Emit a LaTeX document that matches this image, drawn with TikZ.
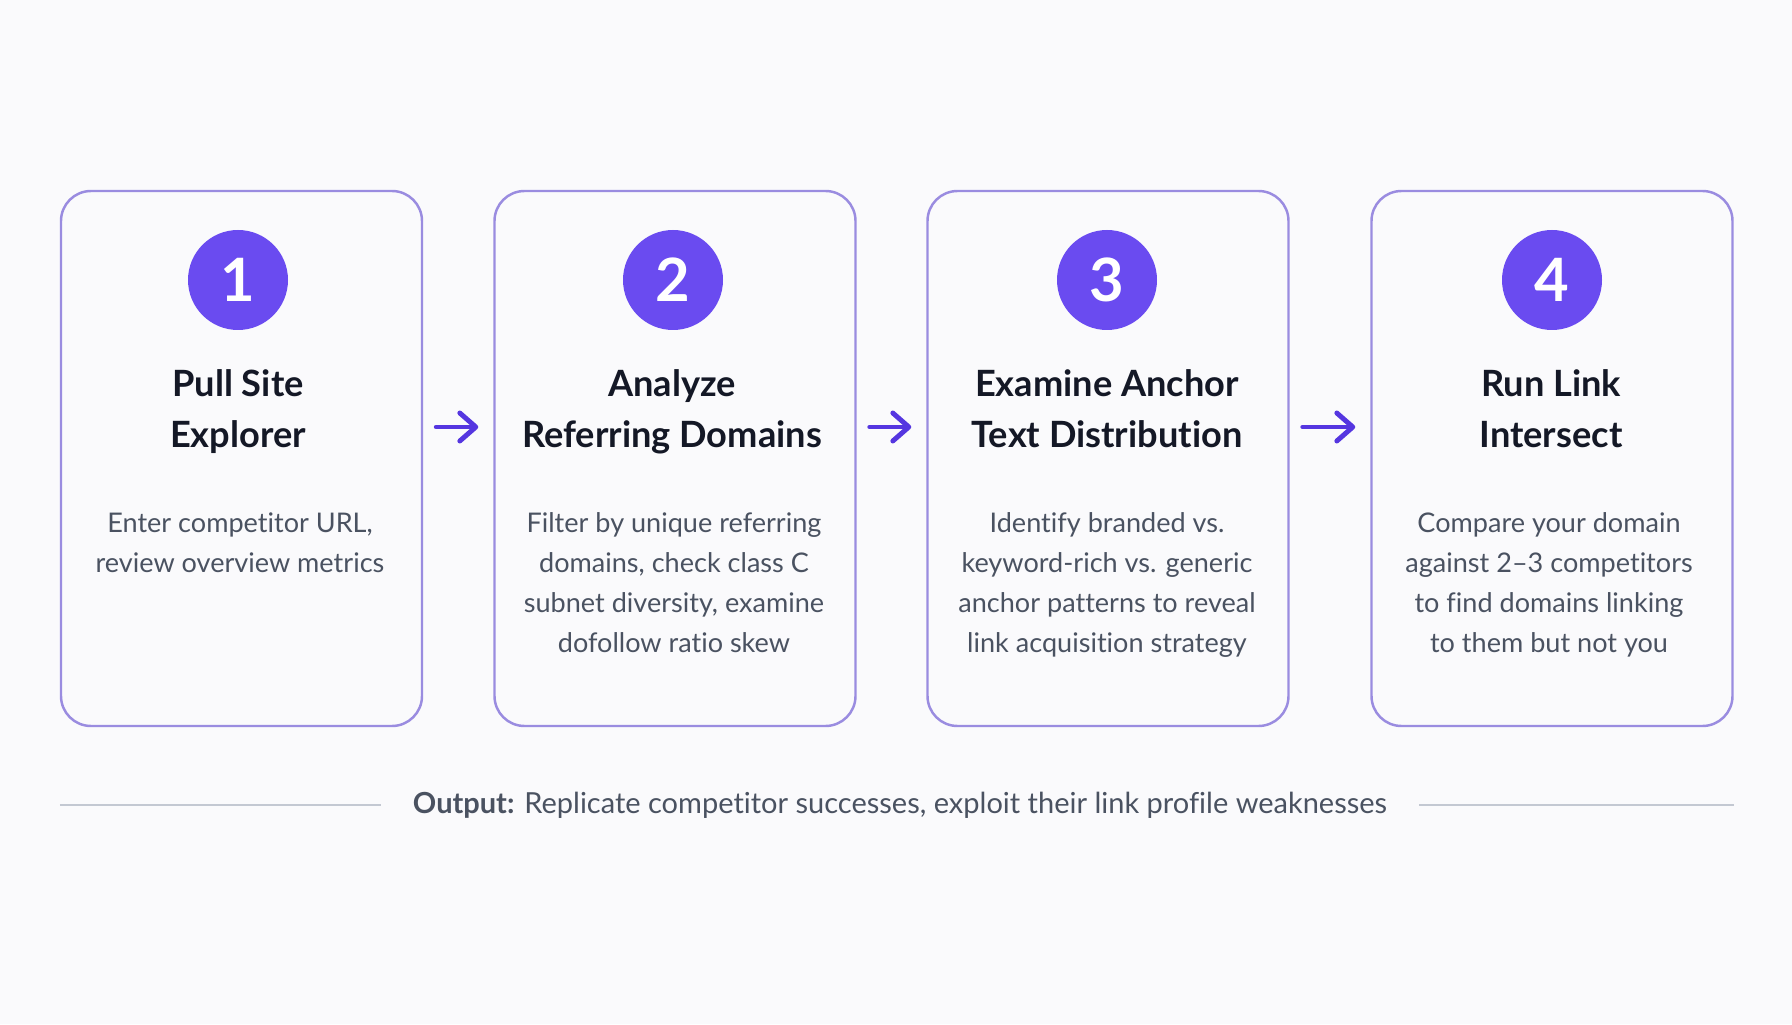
\documentclass[tikz,border=0pt]{standalone}
\usepackage{fontspec}
\setmainfont[Ligatures=NoCommon]{Lato}
\usetikzlibrary{arrows.meta}
\definecolor{stepviolet}{HTML}{6A4BF0}
\definecolor{boxedge}{HTML}{9A8CE0}
\definecolor{arrowviolet}{HTML}{5536E0}
\definecolor{titleink}{HTML}{141826}
\definecolor{bodyink}{HTML}{4A5261}
\definecolor{ruleink}{HTML}{C3C8D2}
\definecolor{pagebg}{HTML}{FAFAFC}

\begin{document}
\begin{tikzpicture}[x=1cm,y=1cm,
    stepbox/.style={draw=boxedge,line width=0.7pt,rounded corners=0.3cm,
        minimum width=3.61cm,minimum height=5.35cm,inner sep=0pt},
    stepnum/.style={circle,fill=stepviolet,text=white,minimum size=1.0cm,
        inner sep=0pt,font=\fontsize{17}{17}\selectfont\bfseries},
    steptitle/.style={anchor=north,align=center,text=titleink,
        font=\fontsize{10.3}{14.5}\selectfont\bfseries},
    stepbody/.style={anchor=north,align=center,text=bodyink,
        font=\fontsize{7.7}{11.4}\selectfont},
    flow/.style={-{Straight Barb[length=1.6mm,width=2.8mm,round]},
        line width=1.4pt,line cap=round,arrowviolet,
        shorten <=0.13cm,shorten >=0.15cm}]
    \useasboundingbox[fill=pagebg] (0,0) rectangle (17.92,10.24);

    \node[stepbox] (box1) at (2.415,5.655) {};
    \node[stepbox] (box2) at (6.75,5.655) {};
    \node[stepbox] (box3) at (11.08,5.655) {};
    \node[stepbox] (box4) at (15.52,5.655) {};

    \node[stepnum] (num1) at (2.38,7.44) {1};
    \node[stepnum] (num2) at (6.73,7.44) {2};
    \node[stepnum] (num3) at (11.07,7.44) {3};
    \node[stepnum] (num4) at (15.52,7.44) {4};

    \node[steptitle] (title1) at (2.38,6.67) {Pull Site\\Explorer};
    \node[steptitle] (title2) at (6.72,6.67) {Analyze\\Referring Domains};
    \node[steptitle] (title3) at (11.07,6.67) {Examine Anchor\\Text Distribution};
    \node[steptitle] (title4) at (15.51,6.67) {Run Link\\Intersect};

    \node[stepbody] (body1) at (2.40,5.24)
        {Enter competitor URL,\\review overview metrics};
    \node[stepbody] (body2) at (6.74,5.24)
        {Filter by unique referring\\domains, check class C\\subnet diversity, examine\\dofollow ratio skew};
    \node[stepbody] (body3) at (11.07,5.24)
        {Identify branded vs.\\keyword-rich vs. generic\\anchor patterns to reveal\\link acquisition strategy};
    \node[stepbody] (body4) at (15.49,5.24)
        {Compare your domain\\against 2--3 competitors\\to find domains linking\\to them but not you};

    \coordinate (arrowrow) at (0,5.97);
    \draw[flow] (box1.east |- arrowrow) -- (box2.west |- arrowrow);
    \draw[flow] (box2.east |- arrowrow) -- (box3.west |- arrowrow);
    \draw[flow] (box3.east |- arrowrow) -- (box4.west |- arrowrow);

    \node[text=bodyink,font=\fontsize{8.25}{10}\selectfont] (out) at (9.0,2.19)
        {\textbf{Output:} Replicate competitor successes, exploit their link profile weaknesses};
    \draw[ruleink,line width=0.8pt] (box1.west |- out) -- ([xshift=-0.2cm]out.west);
    \draw[ruleink,line width=0.8pt] ([xshift=0.2cm]out.east) -- (box4.east |- out);
\end{tikzpicture}
\end{document}
